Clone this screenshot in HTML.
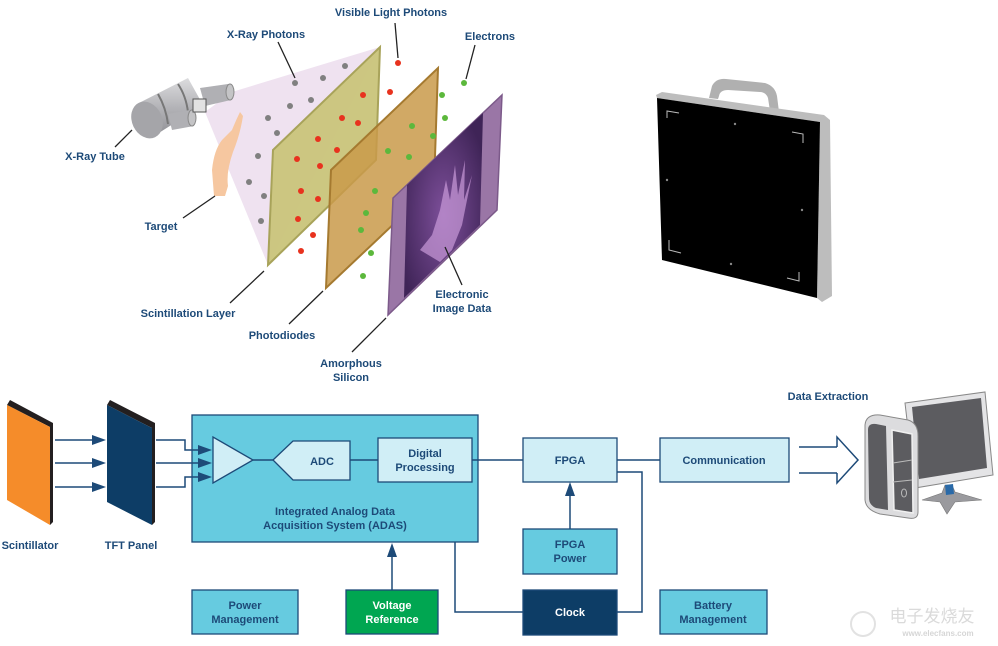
<!DOCTYPE html>
<html><head><meta charset="utf-8"><style>
html,body{margin:0;padding:0;background:#fff;}
svg{display:block;}
text{font-family:"Liberation Sans",Arial,sans-serif;font-weight:bold;fill:#1d4a78;}
</style></head><body>
<svg width="998" height="646" viewBox="0 0 998 646" xmlns="http://www.w3.org/2000/svg">
<defs>
<linearGradient id="tg" x1="0" y1="0" x2="0" y2="1"><stop offset="0" stop-color="#dcdcde"/><stop offset="0.5" stop-color="#b4b4b8"/><stop offset="1" stop-color="#909095"/></linearGradient>
<radialGradient id="pg" cx="0.5" cy="0.55" r="0.6"><stop offset="0" stop-color="#7d4f9a"/><stop offset="1" stop-color="#3f2457"/></radialGradient>
</defs>
<!-- beam -->
<polygon points="205,112 232,92 380,47 268,265" fill="#efe2f0"/>
<!-- tube -->
<polygon points="137,104 188,78 203,105 154,136" fill="url(#tg)"/>
<path d="M158,94 Q166,108 168,124" stroke="#777" stroke-width="2" fill="none"/>
<path d="M178,84 Q186,96 188,112" stroke="#777" stroke-width="2" fill="none"/>
<ellipse cx="147" cy="120" rx="15" ry="19" transform="rotate(-25 147 120)" fill="#a5a5a9"/>
<polygon points="200,88 228,84 231,100 205,106" fill="#b0b0b4"/>
<ellipse cx="230" cy="92" rx="4" ry="8" fill="#c4c4c6" stroke="#888"/>
<polygon points="168,114 190,110 194,126 172,130" fill="#b0b0b4"/>
<ellipse cx="192" cy="118" rx="4" ry="8" fill="#c4c4c6" stroke="#888"/>
<rect x="193" y="99" width="13" height="13" fill="#e2e2e2" stroke="#555" stroke-width="1"/>
<!-- hand -->
<path d="M214,196 L212,170 Q214,150 222,140 L232,130 Q236,120 240,112 L243,116 Q240,135 233,152 Q226,172 228,186 L225,196 Z" fill="#f6c7a0"/>
<!-- gray dots -->
<g fill="#808080">
<circle cx="345" cy="66" r="3"/><circle cx="323" cy="78" r="3"/><circle cx="295" cy="83" r="3"/><circle cx="311" cy="100" r="3"/><circle cx="290" cy="106" r="3"/><circle cx="268" cy="118" r="3"/><circle cx="277" cy="133" r="3"/><circle cx="258" cy="156" r="3"/><circle cx="249" cy="182" r="3"/><circle cx="264" cy="196" r="3"/><circle cx="261" cy="221" r="3"/>
</g>
<polygon points="273,150 380,47 376,160 268,265" fill="#c9c47a" fill-opacity="0.95" stroke="#a8a35a" stroke-width="2"/>
<g fill="#e8321e">
<circle cx="398" cy="63" r="3"/><circle cx="390" cy="92" r="3"/><circle cx="363" cy="95" r="3"/><circle cx="342" cy="118" r="3"/><circle cx="358" cy="123" r="3"/><circle cx="318" cy="139" r="3"/><circle cx="337" cy="150" r="3"/><circle cx="297" cy="159" r="3"/><circle cx="320" cy="166" r="3"/><circle cx="301" cy="191" r="3"/><circle cx="318" cy="199" r="3"/><circle cx="298" cy="219" r="3"/><circle cx="313" cy="235" r="3"/><circle cx="301" cy="251" r="3"/>
</g>
<polygon points="331,170 438,68 434,186 326,288" fill="#c99a4a" fill-opacity="0.85" stroke="#a57a30" stroke-width="2"/>
<g fill="#5cb83c">
<circle cx="464" cy="83" r="3"/><circle cx="442" cy="95" r="3"/><circle cx="445" cy="118" r="3"/><circle cx="412" cy="126" r="3"/><circle cx="433" cy="136" r="3"/><circle cx="388" cy="151" r="3"/><circle cx="409" cy="157" r="3"/><circle cx="375" cy="191" r="3"/><circle cx="366" cy="213" r="3"/><circle cx="361" cy="230" r="3"/><circle cx="371" cy="253" r="3"/><circle cx="363" cy="276" r="3"/>
</g>
<polygon points="393,198 502,95 497,210 388,315" fill="#9a76a6" stroke="#7c5a8a" stroke-width="1.5"/>
<polygon points="407,185 483,113 480,225 404,298" fill="url(#pg)"/>
<path d="M420,250 L432,235 L440,210 L446,180 L450,200 L455,165 L458,195 L465,160 L464,200 L472,175 L462,225 L452,250 L440,262 Z" fill="#c99ad8" fill-opacity="0.7"/>
<g stroke="#222" stroke-width="1.3">
<line x1="395" y1="23" x2="398" y2="58"/><line x1="278" y1="42" x2="295" y2="78"/><line x1="475" y1="45" x2="466" y2="79"/>
<line x1="115" y1="147" x2="132" y2="130"/><line x1="183" y1="218" x2="215" y2="196"/>
<line x1="230" y1="303" x2="264" y2="271"/><line x1="289" y1="324" x2="323" y2="291"/><line x1="352" y1="352" x2="386" y2="318"/><line x1="445" y1="247" x2="462" y2="285"/>
</g>
<g font-size="11">
<text x="391" y="16" text-anchor="middle">Visible Light Photons</text>
<text x="266" y="38" text-anchor="middle">X-Ray Photons</text>
<text x="490" y="40" text-anchor="middle">Electrons</text>
<text x="95" y="160" text-anchor="middle">X-Ray Tube</text>
<text x="161" y="230" text-anchor="middle">Target</text>
<text x="188" y="317" text-anchor="middle">Scintillation Layer</text>
<text x="282" y="339" text-anchor="middle">Photodiodes</text>
<text x="351" y="367" text-anchor="middle">Amorphous</text>
<text x="351" y="381" text-anchor="middle">Silicon</text>
<text x="462" y="298" text-anchor="middle">Electronic</text>
<text x="462" y="312" text-anchor="middle">Image Data</text>
</g>
<!-- detector panel -->
<path d="M709,98 L712,86 Q716,78 726,79 L765,83 Q775,86 777,96 L779,112 L770,111 L768,98 Q766,92 760,92 L728,90 Q720,90 719,96 L718,99 Z" fill="#b0b0b0"/>
<polygon points="656,95 662,92 824,115 830,120 832,296 822,302 817,298 820,122 657,98" fill="#bdbdbd"/>
<polygon points="657,98 820,122 817,298 662,260" fill="#000"/>
<g stroke="#bbb" stroke-width="1" fill="none">
<polyline points="667,118 667,111 679,113"/><polyline points="792,132 803,134 803,143"/><polyline points="669,240 669,250 681,253"/><polyline points="787,278 799,281 799,272"/>
</g>
<g fill="#888"><circle cx="735" cy="124" r="1.2"/><circle cx="667" cy="180" r="1.2"/><circle cx="802" cy="210" r="1.2"/><circle cx="731" cy="264" r="1.2"/></g>

<!-- block diagram -->
<polygon points="10,400 53,423 53,522 50,525 50,427 7,405" fill="#231f20"/>
<polygon points="7,405 50,427 50,525 7,500" fill="#f58c2a"/>
<polygon points="110,400 155,423 155,522 152,525 152,428 107,405" fill="#231f20"/>
<polygon points="107,405 152,428 152,525 107,502" fill="#0d3d66"/>
<g stroke="#1d4a78" stroke-width="1.5" fill="none">
<line x1="55" y1="440" x2="94" y2="440"/><line x1="55" y1="463" x2="94" y2="463"/><line x1="55" y1="487" x2="94" y2="487"/>
</g>
<g fill="#1d4a78">
<polygon points="92,435 106,440 92,445"/><polygon points="92,458 106,463 92,468"/><polygon points="92,482 106,487 92,492"/>
</g>
<rect x="192" y="415" width="286" height="127" fill="#66cbe0" stroke="#1d4a78" stroke-width="1.3"/>
<g stroke="#1d4a78" stroke-width="1.5" fill="none">
<polyline points="156,440 185,440 185,450 200,450"/><line x1="156" y1="463" x2="200" y2="463"/><polyline points="156,487 185,487 185,477 200,477"/>
</g>
<g fill="#1d4a78">
<polygon points="198,445 212,450 198,455"/><polygon points="198,458 212,463 198,468"/><polygon points="198,472 212,477 198,482"/>
</g>
<polygon points="213,437 213,483 253,460" fill="#d0eef6" stroke="#1d4a78" stroke-width="1.3"/>
<line x1="253" y1="460" x2="273" y2="460" stroke="#1d4a78" stroke-width="1.5"/>
<polygon points="273,460 293,441 350,441 350,480 293,480" fill="#d0eef6" stroke="#1d4a78" stroke-width="1.3"/>
<line x1="350" y1="460" x2="378" y2="460" stroke="#1d4a78" stroke-width="1.5"/>
<rect x="378" y="438" width="94" height="44" fill="#d0eef6" stroke="#1d4a78" stroke-width="1.3"/>
<line x1="472" y1="460" x2="523" y2="460" stroke="#1d4a78" stroke-width="1.5"/>
<rect x="523" y="438" width="94" height="44" fill="#d0eef6" stroke="#1d4a78" stroke-width="1.3"/>
<line x1="617" y1="460" x2="660" y2="460" stroke="#1d4a78" stroke-width="1.5"/>
<rect x="660" y="438" width="129" height="44" fill="#d0eef6" stroke="#1d4a78" stroke-width="1.3"/>
<rect x="523" y="529" width="94" height="45" fill="#66cbe0" stroke="#1d4a78" stroke-width="1.3"/>
<line x1="570" y1="529" x2="570" y2="494" stroke="#1d4a78" stroke-width="1.5"/>
<polygon points="565,496 570,482 575,496" fill="#1d4a78"/>
<rect x="192" y="590" width="106" height="44" fill="#66cbe0" stroke="#1d4a78" stroke-width="1.3"/>
<rect x="346" y="590" width="92" height="44" fill="#00a651" stroke="#1d4a78" stroke-width="1.3"/>
<line x1="392" y1="590" x2="392" y2="555" stroke="#1d4a78" stroke-width="1.5"/>
<polygon points="387,557 392,543 397,557" fill="#1d4a78"/>
<rect x="523" y="590" width="94" height="45" fill="#0d3d66" stroke="#1d4a78" stroke-width="1.3"/>
<rect x="660" y="590" width="107" height="44" fill="#66cbe0" stroke="#1d4a78" stroke-width="1.3"/>
<g stroke="#1d4a78" stroke-width="1.5" fill="none">
<polyline points="455,542 455,612 523,612"/><polyline points="617,612 642,612 642,472 617,472"/>
<line x1="799" y1="447" x2="837" y2="447"/><line x1="799" y1="473" x2="837" y2="473"/>
<polyline points="837,447 837,437 858,460 837,483 837,473"/>
</g>
<g font-size="11" text-anchor="middle">
<text x="322" y="465">ADC</text>
<text x="425" y="457">Digital</text><text x="425" y="471">Processing</text>
<text x="335" y="515">Integrated Analog Data</text><text x="335" y="529">Acquisition System (ADAS)</text>
<text x="570" y="464">FPGA</text>
<text x="724" y="464">Communication</text>
<text x="570" y="548">FPGA</text><text x="570" y="562">Power</text>
<text x="245" y="609">Power</text><text x="245" y="623">Management</text>
<text x="392" y="609" style="fill:#fff">Voltage</text><text x="392" y="623" style="fill:#fff">Reference</text>
<text x="570" y="616" style="fill:#fff">Clock</text>
<text x="713" y="609">Battery</text><text x="713" y="623">Management</text>
<text x="30" y="549">Scintillator</text>
<text x="131" y="549">TFT Panel</text>
<text x="828" y="400">Data Extraction</text>
</g>
<!-- computer: monitor -->
<path d="M922,500 L942,493 L945,485 L952,485 L955,492 L982,500 L955,502 L947,514 L940,502 Z" fill="#9a9a9e" stroke="#777" stroke-width="0.6"/>
<polygon points="945,485 953,484 954,494 946,495" fill="#2a6aa8"/>
<polygon points="905,403 985,392 993,475 915,488" fill="#e4e4e6" stroke="#888" stroke-width="1"/>
<polygon points="912,407 981,398 987,468 919,479" fill="#5c5c60"/>
<!-- tower -->
<path d="M865,425 Q866,414 880,415 L908,420 Q918,423 918,436 L918,512 Q918,520 908,518 L880,514 Q866,510 865,500 Z" fill="#dcdcde" stroke="#888" stroke-width="1"/>
<path d="M868,430 Q868,423 876,424 L886,426 L888,510 L876,508 Q869,505 869,498 Z" fill="#5c5c60"/>
<path d="M892,430 L912,434 L913,513 L894,510 Z" fill="#5c5c60" stroke="#f0f0f0" stroke-width="1.5"/>
<line x1="893" y1="463" x2="912" y2="460" stroke="#bbb"/><line x1="893" y1="482" x2="912" y2="480" stroke="#bbb"/>
<ellipse cx="904" cy="493" rx="2.5" ry="4" fill="none" stroke="#bbb"/>
<!-- watermark -->
<text x="932" y="622" font-size="17" text-anchor="middle" style="fill:#dadada;font-weight:normal;font-family:'Liberation Sans','Noto Sans CJK SC',sans-serif">电子发烧友</text>
<text x="938" y="636" font-size="8" text-anchor="middle" style="fill:#d6d6d6">www.elecfans.com</text>
<circle cx="863" cy="624" r="12" fill="none" stroke="#e2e2e2" stroke-width="2"/>
</svg>
</body></html>
